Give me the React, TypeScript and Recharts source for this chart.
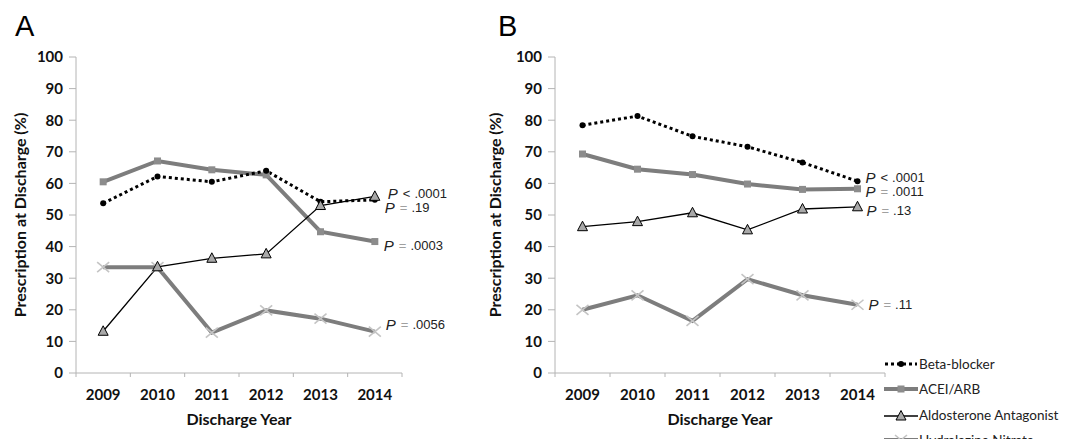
import { LineChart, Line, XAxis, YAxis, Legend } from 'recharts';

// discharge years on the x axis
const years = ['2009', '2010', '2011', '2012', '2013', '2014'];
const yTicks = [0, 10, 20, 30, 40, 50, 60, 70, 80, 90, 100];

// panel A values (%)
const betaA = [53.7, 62.2, 60.5, 64.0, 54.2, 54.8];
const aceiA = [60.5, 67.1, 64.3, 62.7, 44.7, 41.6];
const aldoA = [13.2, 33.6, 36.3, 37.7, 53.0, 55.9];
const hydrA = [33.5, 33.5, 12.8, 19.8, 17.2, 13.1];

// panel B values (%)
const betaB = [78.4, 81.3, 74.9, 71.6, 66.6, 60.7];
const aceiB = [69.3, 64.5, 62.8, 59.8, 58.1, 58.3];
const aldoB = [46.3, 47.9, 50.7, 45.3, 51.9, 52.6];
const hydrB = [20.0, 24.6, 16.5, 29.7, 24.6, 21.6];

// P values, order: beta, acei, aldo, hydr
const pOpA = ['=', '=', '<', '='];
const pValA = ['.19', '.0003', '.0001', '.0056'];
const pOpB = ['<', '=', '=', '='];
const pValB = ['.0001', '.0011', '.13', '.11'];

const seriesNames = ['Beta-blocker', 'ACEI/ARB', 'Aldosterone Antagonist', 'Hydralazine Nitrate'];

const buildRows = (beta: number[], acei: number[], aldo: number[], hydr: number[]) =>
  years.map((year, i) => ({ year, beta: beta[i], acei: acei[i], aldo: aldo[i], hydr: hydr[i] }));

const dataA = buildRows(betaA, aceiA, aldoA, hydrA);
const dataB = buildRows(betaB, aceiB, aldoB, hydrB);

const GRAY = '#7d7d7d';
const AXIS = '#b4b4b4';
const FONT = 'Lato, "Open Sans", sans-serif';
const PFONT = '"Liberation Sans", Arial, sans-serif';

// label offsets next to the 2014 point (beta, acei, aldo, hydr)
const offA = [[10, 7], [9, 3], [13, -3], [11, -8]];
const offB = [[8, -4], [8, 2], [9, 3], [11, -1]];

const pLabel = (op: string, val: string, off: number[]) => (props: any) => {
  const { x, y, index } = props;
  if (index !== years.length - 1) return null;
  return (
    <text x={x + off[0]} y={y + off[1]} dominantBaseline="central" fontFamily={PFONT} fill="#222">
      <tspan fontStyle="italic" fontSize={15}>P</tspan>
      <tspan fontSize={13} dx={5} fill={op === '<' ? '#222' : '#a0a0a0'}>{op}</tspan>
      <tspan fontSize={13} dx={4}>{val}</tspan>
    </text>
  );
};

const BetaDot = (p: any) => <circle key={`b${p.index}`} cx={p.cx} cy={p.cy} r={3} fill="#000" />;
const SquareDot = (p: any) => (
  <rect key={`s${p.index}`} x={p.cx - 3.5} y={p.cy - 3.5} width={7} height={7} fill="#8c8c8c" />
);
const TriDot = (p: any) => (
  <polygon
    key={`t${p.index}`}
    points={`${p.cx},${p.cy - 5.5} ${p.cx - 5},${p.cy + 4} ${p.cx + 5},${p.cy + 4}`}
    fill="#a8a8a8"
    stroke="#000"
    strokeWidth={1}
  />
);
const CrossDot = (p: any) => (
  <g key={`x${p.index}`} stroke="#c4c4c4" strokeWidth={1.6}>
    <line x1={p.cx - 6} y1={p.cy - 5} x2={p.cx + 6} y2={p.cy + 5} />
    <line x1={p.cx - 6} y1={p.cy + 5} x2={p.cx + 6} y2={p.cy - 5} />
  </g>
);

// year labels with Excel style tick marks on the category boundaries
const yearTick = (band: number) => (props: any) => {
  const { x, y, payload, index } = props;
  return (
    <g>
      <line x1={x - band / 2} y1={y} x2={x - band / 2} y2={y + 4} stroke={AXIS} />
      {index === years.length - 1 && (
        <line x1={x + band / 2} y1={y} x2={x + band / 2} y2={y + 4} stroke={AXIS} />
      )}
      <text x={x} y={y + 27} textAnchor="middle" fontFamily={FONT} fontWeight={700} fontSize={15} fill="#111">
        {payload.value}
      </text>
    </g>
  );
};

const LegendIcon = ({ i }: { i: number }) => {
  if (i === 0)
    return (
      <svg width={34} height={14}>
        <line x1={1} y1={7} x2={33} y2={7} stroke="#000" strokeWidth={3} strokeDasharray="3 3" />
        <circle cx={17} cy={7} r={3} fill="#000" />
      </svg>
    );
  if (i === 1)
    return (
      <svg width={34} height={14}>
        <line x1={0} y1={7} x2={34} y2={7} stroke={GRAY} strokeWidth={4} />
        <rect x={13.5} y={3.5} width={7} height={7} fill="#8c8c8c" />
      </svg>
    );
  if (i === 2)
    return (
      <svg width={34} height={14}>
        <line x1={0} y1={8} x2={34} y2={8} stroke="#000" strokeWidth={1.3} />
        <polygon points="17,2.5 12,12 22,12" fill="#a8a8a8" stroke="#000" strokeWidth={1} />
      </svg>
    );
  return (
    <svg width={34} height={14}>
      <line x1={0} y1={7} x2={34} y2={7} stroke={GRAY} strokeWidth={4} />
      <g stroke="#c4c4c4" strokeWidth={1.6}>
        <line x1={11} y1={2} x2={23} y2={12} />
        <line x1={11} y1={12} x2={23} y2={2} />
      </g>
    </svg>
  );
};

const renderLegend = () => (
  <div style={{ fontFamily: FONT, fontSize: 13.5, color: '#222' }}>
    {seriesNames.map((name, i) => (
      <div key={name} style={{ display: 'flex', alignItems: 'center', height: 25.5, whiteSpace: 'nowrap' }}>
        <LegendIcon i={i} />
        <span style={{ marginLeft: 1 }}>{name}</span>
      </div>
    ))}
  </div>
);

const Panel = ({
  data,
  width,
  marginLeft,
  marginRight,
  band,
  labelDx,
  pOp,
  pVal,
  off,
  withLegend,
}: any) => (
  <LineChart
    width={width}
    height={439}
    data={data}
    margin={{ top: 57, right: marginRight, left: marginLeft, bottom: 14 }}
  >
    <XAxis
      dataKey="year"
      height={52}
      stroke={AXIS}
      tickLine={false}
      tickSize={0}
      tickMargin={0}
      tick={yearTick(band)}
      interval={0}
      padding={{ left: band / 2, right: band / 2 }}
      label={{
        value: 'Discharge Year',
        position: 'insideBottom',
        offset: 0,
        style: { fontFamily: FONT, fontWeight: 700, fontSize: 16, fill: '#111' },
      }}
    />
    <YAxis
      domain={[0, 100]}
      ticks={yTicks}
      width={60}
      stroke={AXIS}
      tickSize={7}
      tickMargin={6}
      tick={{ fontFamily: FONT, fontWeight: 700, fontSize: 15, fill: '#111' }}
      label={{
        value: 'Prescription at Discharge (%)',
        angle: -90,
        position: 'center',
        dx: labelDx,
        style: { fontFamily: FONT, fontWeight: 700, fontSize: 16, fill: '#111', textAnchor: 'middle' },
      }}
    />
    <Line
      dataKey="hydr"
      name={seriesNames[3]}
      stroke={GRAY}
      strokeWidth={4}
      dot={CrossDot}
      activeDot={false}
      label={pLabel(pOp[3], pVal[3], off[3])}
      isAnimationActive={false}
    />
    <Line
      dataKey="acei"
      name={seriesNames[1]}
      stroke={GRAY}
      strokeWidth={4}
      dot={SquareDot}
      activeDot={false}
      label={pLabel(pOp[1], pVal[1], off[1])}
      isAnimationActive={false}
    />
    <Line
      dataKey="beta"
      name={seriesNames[0]}
      stroke="#000"
      strokeWidth={3}
      strokeDasharray="3 3"
      dot={BetaDot}
      activeDot={false}
      label={pLabel(pOp[0], pVal[0], off[0])}
      isAnimationActive={false}
    />
    <Line
      dataKey="aldo"
      name={seriesNames[2]}
      stroke="#000"
      strokeWidth={1.3}
      dot={TriDot}
      activeDot={false}
      label={pLabel(pOp[2], pVal[2], off[2])}
      isAnimationActive={false}
    />
    {withLegend && (
      <Legend
        layout="vertical"
        align="center"
        verticalAlign="middle"
        content={renderLegend}
        wrapperStyle={{ position: 'absolute', left: 404, top: 351, width: 200, height: 102 }}
      />
    )}
  </LineChart>
);

export default function App() {
  return (
    <div style={{ position: 'absolute', top: 0, left: 0, width: 1084, height: 439, overflow: 'hidden', background: '#fff' }}>
      <div style={{ position: 'absolute', left: 0, top: 0 }}>
        <Panel
          data={dataA}
          width={480}
          marginLeft={16}
          marginRight={78}
          band={326 / 6}
          labelDx={-26}
          pOp={pOpA}
          pVal={pValA}
          off={offA}
        />
      </div>
      <div style={{ position: 'absolute', left: 480, top: 0 }}>
        <Panel
          data={dataB}
          width={604}
          marginLeft={15}
          marginRight={199}
          band={330 / 6}
          labelDx={-30}
          pOp={pOpB}
          pVal={pValB}
          off={offB}
          withLegend
        />
      </div>
      <div style={{ position: 'absolute', left: 15, top: 12, fontFamily: PFONT, fontSize: 29, lineHeight: '29px' }}>A</div>
      <div style={{ position: 'absolute', left: 498, top: 12, fontFamily: PFONT, fontSize: 29, lineHeight: '29px' }}>B</div>
    </div>
  );
}
